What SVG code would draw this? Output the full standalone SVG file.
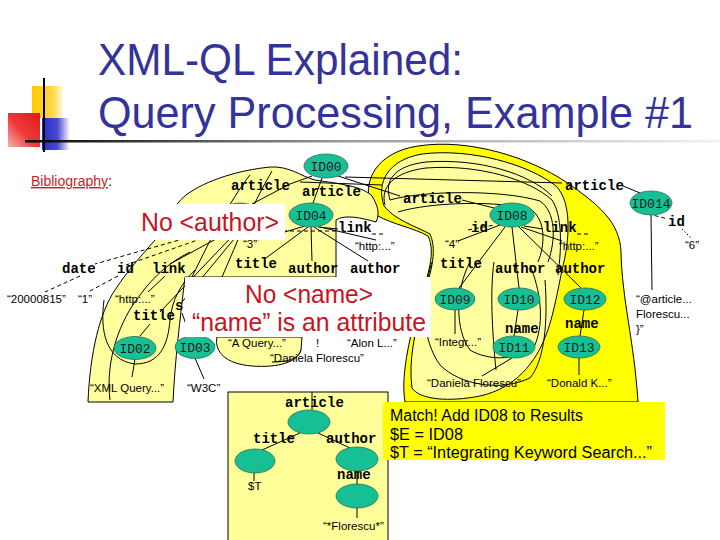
<svg xmlns="http://www.w3.org/2000/svg" width="720" height="540" viewBox="0 0 720 540">
<defs>
  <linearGradient id="hline" x1="0" x2="1" y1="0" y2="0">
    <stop offset="0" stop-color="#000"/>
    <stop offset="0.45" stop-color="#999"/>
    <stop offset="1" stop-color="#f2f2f2"/>
  </linearGradient>
  <linearGradient id="yel" x1="0" x2="1"><stop offset="0" stop-color="#FFC800"/><stop offset="0.7" stop-color="#FFD84a"/><stop offset="1" stop-color="#fff6cc"/></linearGradient>
  <linearGradient id="red" x1="0" x2="1" y1="1" y2="0"><stop offset="0" stop-color="#f7b0b0"/><stop offset="0.45" stop-color="#ee3a3a"/><stop offset="1" stop-color="#e01818"/></linearGradient>
  <linearGradient id="blu" x1="0" x2="1"><stop offset="0" stop-color="#2b2bc4"/><stop offset="0.55" stop-color="#4a4ad0"/><stop offset="1" stop-color="#ffffff"/></linearGradient>
  <style>
    .ttl{font-family:"Liberation Sans",Arial,sans-serif;font-size:44px;fill:#333399}
    .lbl{font-family:"Liberation Mono","DejaVu Sans Mono",monospace;font-weight:bold;font-size:14px;fill:#000}
    .nid{font-family:"Liberation Mono","DejaVu Sans Mono",monospace;font-size:13px;fill:#1a1a1a}
    .val{font-family:"Liberation Sans",Arial,sans-serif;font-size:11.5px;fill:#000}
    .warn{font-family:"Liberation Sans",Arial,sans-serif;font-size:25px;fill:#C8141E}
    .msg{font-family:"Liberation Sans",Arial,sans-serif;font-size:16px;fill:#000}
    .node{fill:#17BF95;stroke:#2a6e5c;stroke-width:0.8}
    .edge{stroke:#000;stroke-width:1;fill:none}
    .dash{stroke:#000;stroke-width:1;fill:none;stroke-dasharray:4 3}
    .dot{stroke:#000;stroke-width:1;fill:none;stroke-dasharray:1.5 2}
    .contour{stroke:#000;stroke-width:1;fill:none}
    .ly{fill:#FFFFA0;stroke:#000;stroke-width:1}
    .by{fill:#FFFF00;stroke:#000;stroke-width:1}
  </style>
</defs>

<rect x="0" y="0" width="720" height="540" fill="#fff"/>

<!-- decoration -->
<g id="decoration">
  <rect x="32" y="86" width="30" height="32" fill="url(#yel)"/>
  <rect x="42" y="118" width="28" height="32" fill="url(#blu)"/>
  <rect x="8" y="113" width="32" height="34" fill="url(#red)"/>
  <line x1="44" y1="78" x2="44" y2="152" stroke="#000" stroke-width="2"/>
  <rect x="25" y="140" width="695" height="2.5" fill="url(#hline)"/>
</g>

<g id="title">
  <text class="ttl" x="98" y="75" textLength="365" lengthAdjust="spacingAndGlyphs">XML-QL Explained:</text>
  <text class="ttl" x="98" y="128" textLength="595" lengthAdjust="spacingAndGlyphs">Query Processing, Example #1</text>
</g>

<g id="bibliography">
  <text x="31" y="186" font-family="Liberation Sans, Arial, sans-serif" font-size="14"><tspan fill="#C81E1E" text-decoration="underline">Bibliography</tspan><tspan fill="#000">:</tspan></text>
</g>

<!-- highlighted regions -->
<g id="regions">
  <path class="by" d="M 372,210 C 360,180 378,152 418,146 C 470,138 530,158 566,182 C 598,204 620,222 621,252 C 622,300 634,340 638,402 L 405,402 C 400,372 412,330 420,300 C 428,275 436,252 428,236 C 414,228 392,224 378,216 Z"/>
  <path class="ly" d="M 88,402 C 90,352 100,312 115,290 C 128,270 142,255 155,240 C 166,224 172,206 186,195 C 206,180 240,170 270,167 C 290,166 300,176 315,180 C 340,184 362,186 372,196 C 378,206 380,214 376,222 C 362,218 345,214 336,220 L 336,277 L 185,277 C 180,320 175,360 173,402 Z"/>
  <path class="ly" d="M 384,206 C 376,182 388,160 422,154 C 470,148 528,164 556,186 C 572,202 570,240 562,270 C 556,300 552,320 546,335 C 536,362 516,388 480,396 C 450,402 420,400 412,388 C 408,360 416,330 422,302 C 430,275 438,252 430,234 C 415,226 395,220 384,206 Z"/>
  <path class="ly" d="M 217,337 C 214,352 226,364 252,366 C 278,368 298,362 301,350 L 302,337 Z"/>
</g>

<g id="contours">
  <path class="contour" d="M 390,200 C 384,180 394,166 426,162 C 480,158 530,174 552,196"/>
  <path class="contour" d="M 385,205 C 380,187 394,172 426,168 C 480,164 530,180 552,200 C 562,215 562,245 558,275"/>
  <path class="contour" d="M 390,200 C 420,191 500,189 540,201 C 556,212 556,240 548,262"/>
  <path class="contour" d="M 398,212 C 430,202 500,200 532,210 C 546,222 545,245 538,262"/>
  <path class="contour" d="M 300,182 L 382,185"/>
  <path class="contour" d="M 432,262 C 420,300 422,340 440,365 C 460,385 500,392 530,378 C 545,360 548,320 545,280"/>
  <path class="contour" d="M 470,262 C 455,290 455,330 470,350 C 490,362 520,360 535,345 C 545,320 540,290 530,265"/>
  <path class="contour" d="M 494,262 C 490,290 492,330 496,370"/>
  <path class="contour" d="M 250,175 C 230,200 210,240 192,277"/>
  <path class="contour" d="M 272,171 C 252,205 238,240 222,277"/>
  <path class="contour" d="M 110,400 C 105,360 120,320 140,295 C 155,275 170,262 190,252"/>
  <path class="contour" d="M 104,300 C 100,330 105,360 135,364 C 160,364 168,345 170,320 C 172,300 180,285 195,270"/>
  <path class="contour" d="M 301,350 C 298,358 290,362 272,362"/>
</g>

<!-- connectors -->
<g id="connectors">
  <!-- ID00 -->
  <path class="edge" d="M 312,176 L 290,184 L 252,204"/>
  <path class="edge" d="M 322,178 L 313,203"/>
  <path class="edge" d="M 338,176 L 400,196"/>
  <path class="edge" d="M 462,200 L 494,208"/>
  <path class="edge" d="M 345,177 L 562,183"/>
  <path class="edge" d="M 623,186 L 640,193"/>
  <!-- ID04 -->
  <path class="edge" d="M 305,226 L 258,240"/>
  <path class="edge" d="M 308,227 L 266,258"/>
  <path class="edge" d="M 311,227 L 312,261"/>
  <path class="edge" d="M 314,227 L 368,261"/>
  <path class="edge" d="M 318,227 L 338,229"/>
  <path class="edge" d="M 320,227 L 376,240"/>
  <path class="dash" d="M 262,231 L 336,231"/>
  <path class="dash" d="M 372,234 L 384,234"/>
  <!-- ID08 -->
  <path class="edge" d="M 500,225 L 458,241"/>
  <path class="dash" d="M 468,230 L 494,225"/>
  <path class="edge" d="M 505,227 L 459,288"/>
  <path class="edge" d="M 512,227 L 519,288"/>
  <path class="edge" d="M 518,226 L 581,288"/>
  <path class="edge" d="M 524,226 L 543,229"/>
  <path class="edge" d="M 521,227 L 562,241"/>
  <path class="dash" d="M 577,234 L 588,234"/>
  <path class="edge" d="M 455,310 L 455,334"/>
  <path class="edge" d="M 518,310 L 514,336"/>
  <path class="edge" d="M 584,310 L 580,336"/>
  <path class="edge" d="M 512,358 L 482,376"/>
  <path class="edge" d="M 579,358 L 579,375"/>
  <!-- ID014 -->
  <path class="edge" d="M 651,215 L 652,290"/>
  <path class="dash" d="M 641,212 L 668,219"/>
  <path class="dot" d="M 682,229 L 691,238"/>
  <!-- ID01 -->
  <path class="dash" d="M 232,225 L 95,264"/>
  <path class="dash" d="M 235,227 L 126,265"/>
  <path class="edge" d="M 238,227 L 170,264"/>
  <path class="edge" d="M 241,227 L 160,312"/>
  <path class="edge" d="M 244,227 L 182,302"/>
  <path class="dash" d="M 80,276 L 45,292"/>
  <path class="dash" d="M 118,276 L 88,292"/>
  <path class="edge" d="M 165,276 L 148,292"/>
  <path class="edge" d="M 150,324 L 140,336"/>
  <path class="edge" d="M 135,359 L 132,377"/>
  <path class="edge" d="M 190,336 L 182,313"/>
  <path class="edge" d="M 195,358 L 204,379"/>
</g>

<!-- edge labels -->
<g id="labels">
  <text class="lbl" x="231" y="190">article</text>
  <text class="lbl" x="302" y="196">article</text>
  <text class="lbl" x="403" y="203">article</text>
  <text class="lbl" x="565" y="190">article</text>
  <text class="lbl" x="668" y="226">id</text>
  <text class="lbl" x="471" y="232">id</text>
  <text class="lbl" x="543" y="232">link</text>
  <text class="lbl" x="338" y="232">link</text>
  <text class="lbl" x="440" y="268">title</text>
  <text class="lbl" x="495" y="273">author</text>
  <text class="lbl" x="555" y="273">author</text>
  <text class="lbl" x="235" y="268">title</text>
  <text class="lbl" x="288" y="273">author</text>
  <text class="lbl" x="350" y="273">author</text>
  <text class="lbl" x="62" y="273">date</text>
  <text class="lbl" x="117" y="273">id</text>
  <text class="lbl" x="152" y="273">link</text>
  <text class="lbl" x="133" y="320">title</text>
  <text class="lbl" x="175" y="310">s</text>
  <text class="lbl" x="505" y="333">name</text>
  <text class="lbl" x="565" y="328">name</text>
</g>

<!-- nodes -->
<g id="ID00"><ellipse class="node" cx="326" cy="166" rx="22" ry="12"/><text class="nid" x="326" y="170.5" text-anchor="middle">ID00</text></g>
<g id="ID01"><ellipse class="node" cx="240" cy="215" rx="20" ry="12"/></g>
<g id="ID04"><ellipse class="node" cx="311" cy="215" rx="22" ry="12"/><text class="nid" x="311" y="219.5" text-anchor="middle">ID04</text></g>
<g id="ID08"><ellipse class="node" cx="512" cy="215" rx="22" ry="12"/><text class="nid" x="512" y="219.5" text-anchor="middle">ID08</text></g>
<g id="ID014"><ellipse class="node" cx="651" cy="203" rx="21" ry="12"/><text class="nid" x="651" y="207.5" text-anchor="middle">ID014</text></g>
<g id="ID02"><ellipse class="node" cx="135" cy="348" rx="21" ry="11.5"/><text class="nid" x="135" y="352.5" text-anchor="middle">ID02</text></g>
<g id="ID03"><ellipse class="node" cx="195" cy="347" rx="20" ry="11.5"/><text class="nid" x="195" y="351.5" text-anchor="middle">ID03</text></g>
<g id="ID09"><ellipse class="node" cx="455" cy="299" rx="20" ry="11"/><text class="nid" x="455" y="303.5" text-anchor="middle">ID09</text></g>
<g id="ID10"><ellipse class="node" cx="519" cy="299" rx="21" ry="11"/><text class="nid" x="519" y="303.5" text-anchor="middle">ID10</text></g>
<g id="ID12"><ellipse class="node" cx="585" cy="299" rx="21" ry="11"/><text class="nid" x="585" y="303.5" text-anchor="middle">ID12</text></g>
<g id="ID11"><ellipse class="node" cx="514" cy="347" rx="21" ry="11"/><text class="nid" x="514" y="351.5" text-anchor="middle">ID11</text></g>
<g id="ID13"><ellipse class="node" cx="579" cy="347" rx="21" ry="11"/><text class="nid" x="579" y="351.5" text-anchor="middle">ID13</text></g>

<!-- values -->
<g id="values">
  <text class="val" x="685" y="249">“6”</text>
  <text class="val" x="559" y="250">“http:...”</text>
  <text class="val" x="445" y="248">“4”</text>
  <text class="val" x="355" y="250">“http:...”</text>
  <text class="val" x="243" y="248">“3”</text>
  <text class="val" x="7" y="303">“20000815”</text>
  <text class="val" x="78" y="303">“1”</text>
  <text class="val" x="115" y="303">“http:...”</text>
  <text class="val" x="90" y="392">“XML Query...”</text>
  <text class="val" x="187" y="392">“W3C”</text>
  <text class="val" x="228" y="347">“A Query...”</text>
  <text class="val" x="316" y="347">!</text>
  <text class="val" x="347" y="347">“Alon L...”</text>
  <text class="val" x="270" y="362">“Daniela Florescu”</text>
  <text class="val" x="435" y="346">“Integr...”</text>
  <text class="val" x="427" y="387">“Daniela Florescu”</text>
  <text class="val" x="547" y="387">“Donald K...”</text>
  <text class="val" x="636" y="303">“@article...</text>
  <text class="val" x="636" y="318">Florescu...</text>
  <text class="val" x="636" y="333">}”</text>
</g>

<!-- callouts -->
<g id="no-author">
  <rect x="137" y="204" width="148" height="36" fill="#fff"/>
  <text class="warn" x="141" y="231" textLength="138" lengthAdjust="spacingAndGlyphs">No &lt;author&gt;</text>
</g>
<g id="no-name">
  <rect x="185" y="277" width="246" height="60" fill="#fff"/>
  <text class="warn" x="245" y="303" textLength="128" lengthAdjust="spacingAndGlyphs">No &lt;name&gt;</text>
  <text class="warn" x="192" y="331" textLength="234" lengthAdjust="spacingAndGlyphs">“name” is an attribute</text>
</g>

<!-- query pattern -->
<g id="query">
  <rect x="228" y="392" width="160" height="152" fill="#FFFF99" stroke="#000" stroke-width="1"/>
  <g id="q-connectors">
    <path class="edge" d="M 312,392 L 312,410"/>
    <path class="edge" d="M 300,433 L 262,450"/>
    <path class="edge" d="M 318,433 L 350,448"/>
    <path class="edge" d="M 254,473 L 254,481"/>
    <path class="edge" d="M 357,470 L 357,485"/>
    <path class="edge" d="M 357,508 L 357,518"/>
  </g>
  <text class="lbl" x="285" y="407">article</text>
  <g id="q-article"><ellipse class="node" cx="309" cy="422" rx="21" ry="12"/></g>
  <g id="q-title"><ellipse class="node" cx="255" cy="461" rx="20" ry="12"/></g>
  <g id="q-author"><ellipse class="node" cx="357" cy="459" rx="21" ry="12"/></g>
  <g id="q-name"><ellipse class="node" cx="357" cy="496" rx="21" ry="12"/></g>
  <text class="lbl" x="253" y="443">title</text>
  <text class="lbl" x="326" y="443">author</text>
  <text class="lbl" x="337" y="479">name</text>
  <text class="val" x="248" y="490">$T</text>
  <text class="val" x="323" y="530">“*Florescu*”</text>
</g>

<g id="match">
  <rect x="383" y="402" width="282" height="58" fill="#FFFF00"/>
  <text class="msg" x="390" y="421" textLength="193" lengthAdjust="spacingAndGlyphs">Match! Add ID08 to Results</text>
  <text class="msg" x="390" y="440" textLength="73" lengthAdjust="spacingAndGlyphs">$E = ID08</text>
  <text class="msg" x="390" y="458" textLength="262" lengthAdjust="spacingAndGlyphs">$T = “Integrating Keyword Search...”</text>
</g>
</svg>
